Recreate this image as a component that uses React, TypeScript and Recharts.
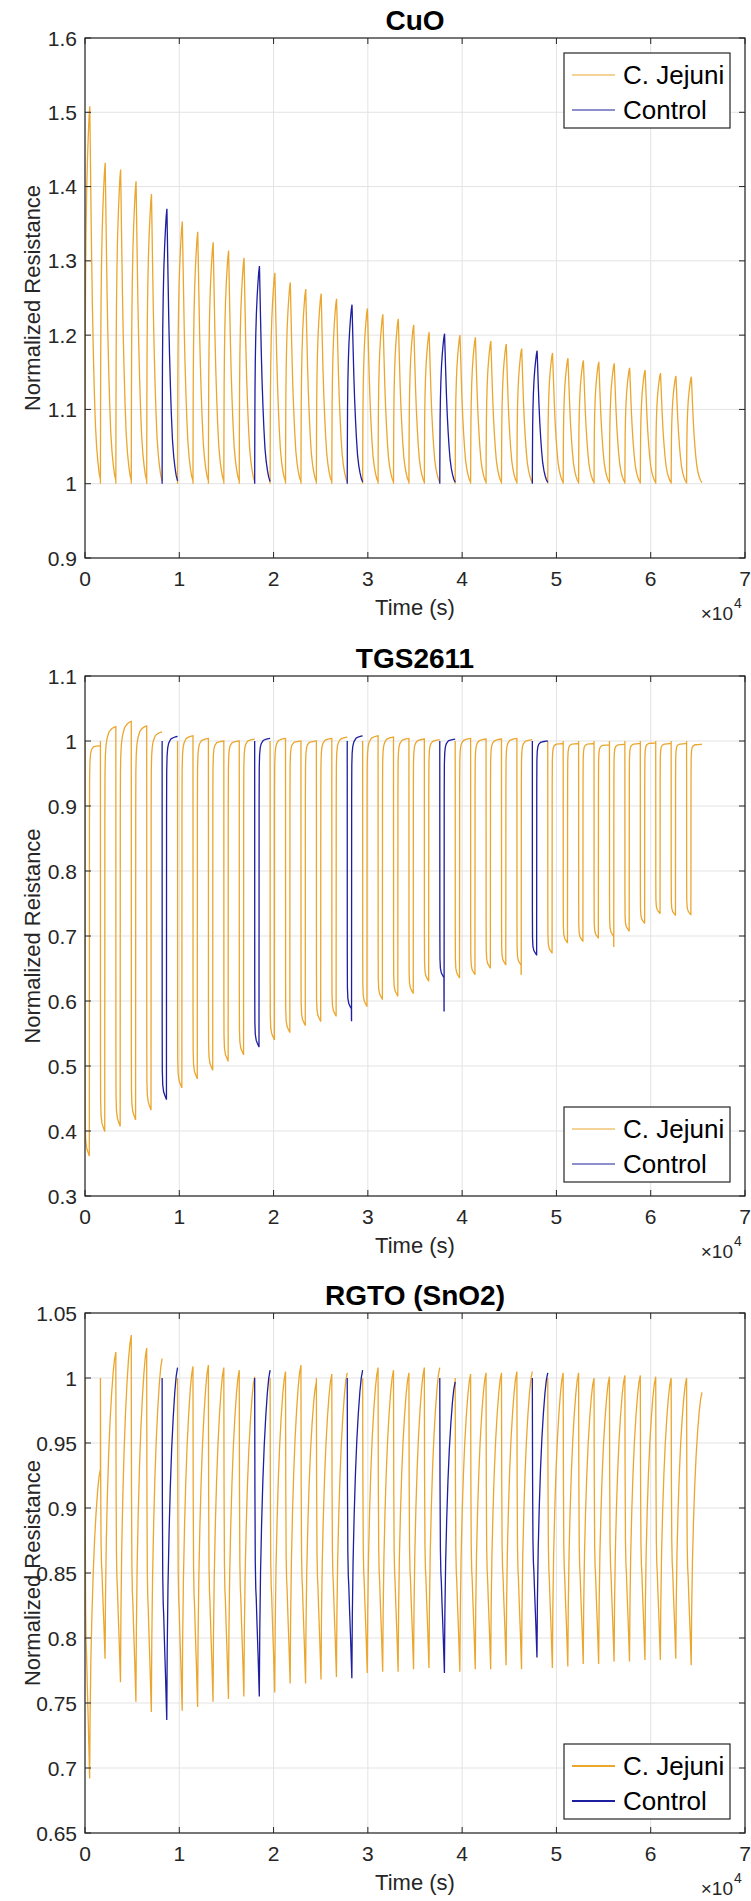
import React from "react";
import { LineChart, Line, XAxis, YAxis, CartesianGrid } from "recharts";

const FONT = '"Liberation Sans", Arial, Helvetica, sans-serif';
const ORANGE = "#EBA62E";
const BLUE = "#1E1EA0";
const INK = "#262626";

const W = 751;
const PLOT_L = 85;
const PLOT_W = 660;
const PLOT_T = 38;
const PLOT_H = 520;

// every run is 40 exposure cycles of the same length; every 6th one (from #5) is the control
const CYCLE_S = 1636;
const controlCycles = [5, 11, 17, 23, 29];

const xTicks = [0, 10000, 20000, 30000, 40000, 50000, 60000, 70000];
const cuoTicks = [0.9, 1, 1.1, 1.2, 1.3, 1.4, 1.5, 1.6];
const tgsTicks = [0.3, 0.4, 0.5, 0.6, 0.7, 0.8, 0.9, 1, 1.1];
const rgtoTicks = [0.65, 0.7, 0.75, 0.8, 0.85, 0.9, 0.95, 1, 1.05];

// CuO: peak of each cycle
const cuoPeaks = [
  1.508, 1.432, 1.423, 1.407, 1.39, 1.37, 1.353, 1.339, 1.325, 1.314,
  1.304, 1.293, 1.284, 1.271, 1.262, 1.256, 1.249, 1.241, 1.236, 1.228,
  1.222, 1.214, 1.204, 1.202, 1.2, 1.197, 1.192, 1.188, 1.182, 1.179,
  1.176, 1.169, 1.166, 1.164, 1.162, 1.156, 1.153, 1.149, 1.145, 1.144,
];

// TGS2611: recovered level, bottom of the dip, and the odd notch at the end of a dip
const tgsTops = [
  0.993, 1.022, 1.03, 1.023, 1.014, 1.007, 1.008, 1.004, 1.0, 1.0,
  1.003, 1.004, 1.004, 1.0, 1.0, 1.004, 1.006, 1.008, 1.008, 1.006,
  1.004, 1.003, 1.002, 1.003, 1.004, 1.003, 1.003, 1.004, 1.002, 1.0,
  0.996, 0.996, 0.996, 0.994, 0.995, 0.996, 0.997, 0.996, 0.996, 0.995,
];
const tgsLows = [
  0.362, 0.4, 0.408, 0.418, 0.433, 0.449, 0.467, 0.481, 0.494, 0.508,
  0.518, 0.53, 0.541, 0.552, 0.563, 0.569, 0.577, 0.588, 0.592, 0.603,
  0.608, 0.612, 0.631, 0.636, 0.636, 0.641, 0.651, 0.656, 0.655, 0.671,
  0.674, 0.69, 0.692, 0.697, 0.7, 0.708, 0.72, 0.735, 0.732, 0.733,
];
const tgsNotch: (number | null)[] = [
  null, null, null, null, null, null, null, null, null, null,
  null, null, null, null, null, null, null, 0.57, null, null,
  null, null, null, 0.585, null, null, null, null, 0.641, null,
  null, null, null, null, 0.684, null, null, null, null, null,
];

// RGTO (SnO2): bottom of each dip and the level reached at the end of the cycle
const rgtoLows = [
  0.692, 0.784, 0.766, 0.751, 0.743, 0.737, 0.744, 0.747, 0.751, 0.753,
  0.755, 0.755, 0.758, 0.765, 0.765, 0.768, 0.77, 0.769, 0.773, 0.774,
  0.774, 0.776, 0.777, 0.773, 0.774, 0.776, 0.776, 0.779, 0.776, 0.785,
  0.777, 0.778, 0.78, 0.78, 0.782, 0.782, 0.783, 0.783, 0.784, 0.779,
];
const rgtoPeaks = [
  0.93, 1.02, 1.033, 1.023, 1.015, 1.008, 1.009, 1.01, 1.008, 1.006,
  1.001, 1.006, 1.005, 1.01, 0.997, 1.003, 1.004, 1.006, 1.008, 1.006,
  1.004, 1.008, 1.008, 0.997, 1.003, 1.004, 1.004, 1.005, 1.005, 1.004,
  1.004, 1.004, 1.0, 1.001, 1.002, 1.002, 1.001, 1.0, 1.0, 0.989,
];

// shape of one cycle: [phase of cycle, fraction of the swing]
const cuoShape = [
  [0, 0], [0.008, 0.22], [0.02, 0.42], [0.04, 0.56], [0.07, 0.68], [0.11, 0.78],
  [0.16, 0.86], [0.21, 0.92], [0.26, 0.97], [0.31, 1], [0.34, 0.9], [0.38, 0.76],
  [0.43, 0.6], [0.48, 0.47], [0.54, 0.35], [0.6, 0.25], [0.67, 0.16], [0.75, 0.1],
  [0.83, 0.06], [0.91, 0.03], [1, 0.01],
];
const tgsDip = [[0, 0], [0.004, 0.8], [0.012, 0.92], [0.04, 0.96], [0.1, 0.98], [0.18, 0.99], [0.27, 1]];
// fast recovery up to ~1, then the slow creep above 1 seen in the first cycles
const tgsRecover = [
  [0.28, 0], [0.287, 0.8], [0.297, 0.92], [0.32, 0.96], [0.36, 0.98], [0.42, 0.99], [0.55, 0.997], [1, 1],
];
const tgsCreep = [
  [0.28, 0], [0.3, 0.05], [0.36, 0.3], [0.45, 0.55], [0.58, 0.78], [0.75, 0.93], [0.9, 0.99], [1, 1],
];
const rgtoDip = [[0, 0], [0.015, 0.35], [0.04, 0.58], [0.07, 0.66], [0.1, 0.69], [0.15, 0.77], [0.22, 0.87], [0.3, 1]];
const rgtoRecover = [
  [0.3, 0], [0.33, 0.2], [0.38, 0.38], [0.45, 0.53], [0.53, 0.66], [0.62, 0.77],
  [0.72, 0.86], [0.82, 0.93], [0.91, 0.975], [1, 1],
];

type Pt = { t: number; cj: number | null; ctrl: number | null };

function buildRun(cycleCount: number, cycle: (k: number) => number[][]): Pt[] {
  const out: Pt[] = [];
  for (let k = 0; k < cycleCount; k++) {
    const isCtrl = controlCycles.includes(k);
    for (const [ph, v] of cycle(k)) {
      const t = Math.round((k + ph) * CYCLE_S);
      out.push({ t, cj: isCtrl ? null : v, ctrl: isCtrl ? v : null });
    }
  }
  return out;
}

// look up a traced shape at a given phase (shapes share their phase grid where combined)
function shapeAt(shape: number[][], ph: number) {
  for (let i = 1; i < shape.length; i++) {
    if (ph <= shape[i][0]) {
      const [p0, f0] = shape[i - 1];
      const [p1, f1] = shape[i];
      return p1 === p0 ? f1 : f0 + ((ph - p0) / (p1 - p0)) * (f1 - f0);
    }
  }
  return shape[shape.length - 1][1];
}

const cuoData = buildRun(cuoPeaks.length, (k) =>
  cuoShape.map(([ph, f]) => [ph, 1 + (cuoPeaks[k] - 1) * f])
);

const tgsData = buildRun(tgsLows.length, (k) => {
  const low = tgsLows[k];
  const end = tgsNotch[k] ?? low;
  const top = tgsTops[k];
  const sat = Math.min(top, 0.997);
  const pts = tgsDip.map(([ph, f]) => [ph, 1 - (1 - low) * f]);
  if (tgsNotch[k] != null) pts.push([0.276, end]);
  const phases = Array.from(new Set([...tgsRecover.map((p) => p[0]), ...tgsCreep.map((p) => p[0])])).sort(
    (a, b) => a - b
  );
  return pts.concat(
    phases.map((ph) => [ph, end + (sat - end) * shapeAt(tgsRecover, ph) + (top - sat) * shapeAt(tgsCreep, ph)])
  );
});

const rgtoData = buildRun(rgtoLows.length, (k) => {
  const low = rgtoLows[k];
  return rgtoDip
    .map(([ph, f]) => [ph, 1 - (1 - low) * f])
    .concat(rgtoRecover.map(([ph, f]) => [ph, low + (rgtoPeaks[k] - low) * f]));
});

const fmt = (v: number) => String(Math.round(v * 100) / 100);

function XTick(props: any) {
  const { x, payload } = props;
  const b = PLOT_T + PLOT_H;
  return (
    <g>
      <line x1={x} x2={x} y1={b} y2={b - 6} stroke={INK} />
      <line x1={x} x2={x} y1={PLOT_T} y2={PLOT_T + 6} stroke={INK} />
      <text x={x} y={b + 28} textAnchor="middle" fontSize={21} fontFamily={FONT} fill={INK}>
        {fmt(payload.value / 10000)}
      </text>
    </g>
  );
}

function YTick(props: any) {
  const { y, payload } = props;
  const r = PLOT_L + PLOT_W;
  return (
    <g>
      <line x1={PLOT_L} x2={PLOT_L + 6} y1={y} y2={y} stroke={INK} />
      <line x1={r - 6} x2={r} y1={y} y2={y} stroke={INK} />
      <text x={PLOT_L - 8} y={y + 7.5} textAnchor="end" fontSize={21} fontFamily={FONT} fill={INK}>
        {fmt(payload.value)}
      </text>
    </g>
  );
}

interface PanelProps {
  top: number;
  height: number;
  title: string;
  yLabel: string;
  domain: [number, number];
  yTicks: number[];
  data: Pt[];
  legendAtTop: boolean;
  legendStroke: number;
}

function Panel({ top, height, title, yLabel, domain, yTicks, data, legendAtTop, legendStroke }: PanelProps) {
  const b = PLOT_T + PLOT_H;
  const cx = PLOT_L + PLOT_W / 2;
  const lgW = 166;
  const lgH = 75;
  const lgX = 564;
  const lgY = legendAtTop ? PLOT_T + 15 : b - 14 - lgH;
  return (
    <div style={{ position: "absolute", left: 0, top, width: W, height }}>
      <LineChart
        width={W}
        height={height}
        data={data}
        margin={{ top: PLOT_T, right: W - PLOT_L - PLOT_W, bottom: height - PLOT_T - PLOT_H - 30, left: 0 }}
      >
        <CartesianGrid stroke="#e3e3e3" />
        <XAxis
          type="number"
          dataKey="t"
          domain={[0, 70000]}
          ticks={xTicks}
          interval={0}
          height={30}
          allowDataOverflow
          axisLine={false}
          tickLine={false}
          tick={(p: any) => <XTick {...p} />}
        />
        <YAxis
          type="number"
          domain={domain}
          ticks={yTicks}
          interval={0}
          width={PLOT_L}
          allowDataOverflow
          axisLine={false}
          tickLine={false}
          tick={(p: any) => <YTick {...p} />}
        />
        <Line type="linear" dataKey="cj" stroke={ORANGE} strokeWidth={1.3} dot={false} activeDot={false} isAnimationActive={false} />
        <Line type="linear" dataKey="ctrl" stroke={BLUE} strokeWidth={1.3} dot={false} activeDot={false} isAnimationActive={false} />
      </LineChart>
      <svg
        width={W}
        height={height}
        style={{ position: "absolute", left: 0, top: 0, pointerEvents: "none" }}
        fontFamily={FONT}
      >
        <rect x={PLOT_L} y={PLOT_T} width={PLOT_W} height={PLOT_H} fill="none" stroke={INK} strokeWidth={1.2} />
        <text x={cx} y={PLOT_T - 8} textAnchor="middle" fontSize={28} fontWeight="bold" fill="#000">
          {title}
        </text>
        <text
          transform={`translate(40, ${PLOT_T + PLOT_H / 2}) rotate(-90)`}
          textAnchor="middle"
          fontSize={22}
          fill={INK}
        >
          {yLabel}
        </text>
        <text x={cx} y={b + 57} textAnchor="middle" fontSize={22} fill={INK}>
          Time (s)
        </text>
        <text x={733} y={b + 62} textAnchor="end" fontSize={19} fill={INK}>
          ×10
        </text>
        <text x={734} y={b + 50} fontSize={14} fill={INK}>
          4
        </text>
        <rect x={lgX} y={lgY} width={lgW} height={lgH} fill="#fff" stroke={INK} strokeWidth={1.2} />
        <line x1={lgX + 8} x2={lgX + 51} y1={lgY + 22} y2={lgY + 22} stroke={ORANGE} strokeWidth={legendStroke} />
        <text x={lgX + 59} y={lgY + 31} fontSize={26} fill="#000">
          C. Jejuni
        </text>
        <line x1={lgX + 8} x2={lgX + 51} y1={lgY + 57} y2={lgY + 57} stroke={BLUE} strokeWidth={legendStroke} />
        <text x={lgX + 59} y={lgY + 66} fontSize={26} fill="#000">
          Control
        </text>
      </svg>
    </div>
  );
}

export default function App() {
  return (
    <div style={{ position: "absolute", left: 0, top: 0, width: W, height: 1901, background: "#fff" }}>
      <Panel
        top={0}
        height={638}
        title="CuO"
        yLabel="Normalized Resistance"
        domain={[0.9, 1.6]}
        yTicks={cuoTicks}
        data={cuoData}
        legendAtTop
        legendStroke={1}
      />
      <Panel
        top={638}
        height={637}
        title="TGS2611"
        yLabel="Normalized Reistance"
        domain={[0.3, 1.1]}
        yTicks={tgsTicks}
        data={tgsData}
        legendAtTop={false}
        legendStroke={1}
      />
      <Panel
        top={1275}
        height={626}
        title="RGTO (SnO2)"
        yLabel="Normalized Resistance"
        domain={[0.65, 1.05]}
        yTicks={rgtoTicks}
        data={rgtoData}
        legendAtTop={false}
        legendStroke={2}
      />
    </div>
  );
}
